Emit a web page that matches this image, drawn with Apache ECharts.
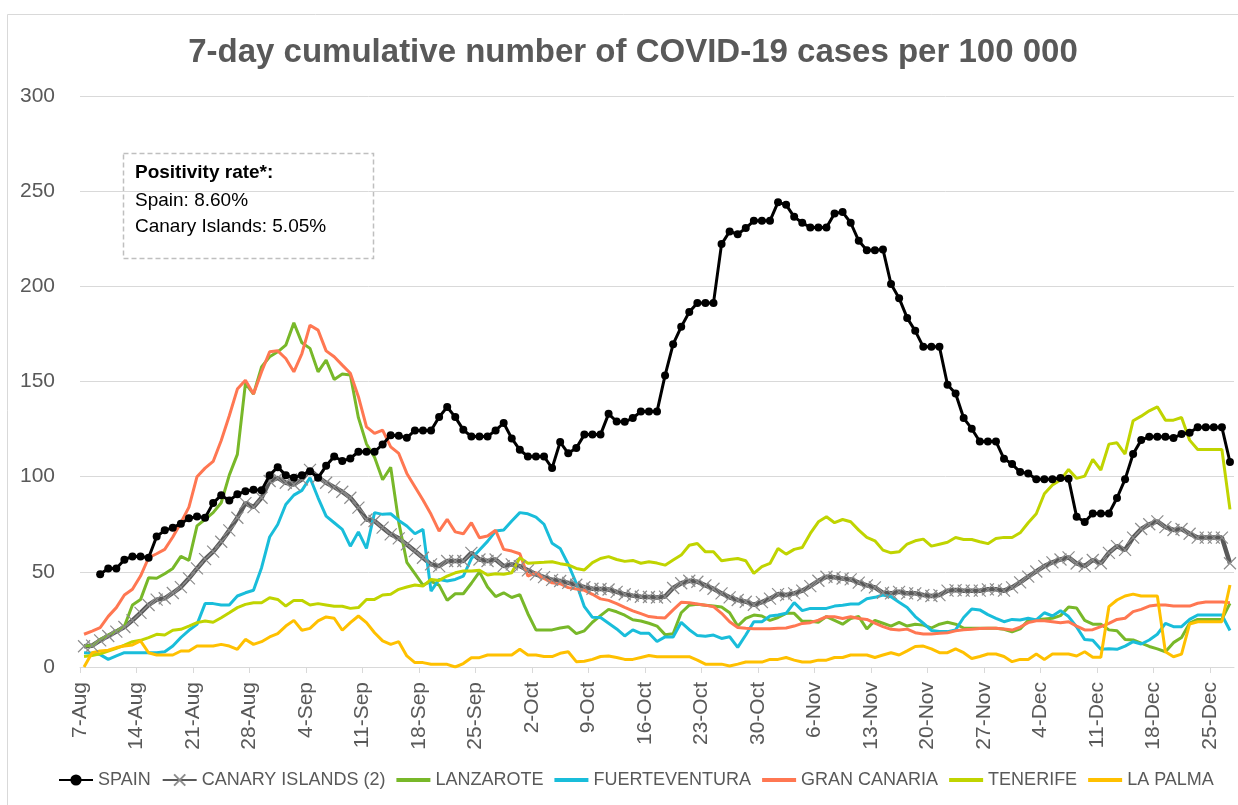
<!DOCTYPE html>
<html>
<head>
<meta charset="utf-8">
<script src="https://cdn.jsdelivr.net/npm/echarts@6/dist/echarts.min.js"></script>
<style>
  html, body { margin: 0; padding: 0; background: #fff; }
  #chart { width: 1238px; height: 805px; }
</style>
</head>
<body>
<div id="chart"></div>
<script>
// Weekly tick labels (one every 7 days, starting 7-Aug)
const tickLabels = ['7-Aug','14-Aug','21-Aug','28-Aug','4-Sep','11-Sep','18-Sep','25-Sep','2-Oct','9-Oct',
  '16-Oct','23-Oct','30-Oct','6-Nov','13-Nov','20-Nov','27-Nov','4-Dec','11-Dec','18-Dec','25-Dec'];
const yTicks = [0, 50, 100, 150, 200, 250, 300];
const seriesNames = ['SPAIN','CANARY ISLANDS (2)','LANZAROTE','FUERTEVENTURA','GRAN CANARIA','TENERIFE','LA PALMA'];

// Daily values, day 0 = 7-Aug ... day 142 = 27-Dec
const spain = [
  null,null,48.7,51.8,51.8,56.4,58.1,58.1,57.4,68.6,
  71.8,73.2,75.3,78.1,79.1,78.4,86.1,90.3,87.5,90.7,
  92.4,93.1,92.8,100.8,105.0,100.8,99.4,100.8,102.9,99.4,
  105.7,110.6,108.2,109.6,113.1,113.1,113.1,116.9,121.8,121.5,
  120.4,124.3,124.3,124.3,131.3,136.6,131.3,124.6,121.1,121.1,
  121.1,124.3,128.2,120.1,114.1,110.6,110.6,110.6,104.5,118.2,
  112.3,115.1,122.1,122.1,122.1,133.0,129.0,128.8,130.8,134.2,
  134.2,134.2,153.2,169.6,178.7,186.5,191.3,191.3,191.3,222.2,
  228.8,227.4,230.6,234.4,234.4,234.4,244.2,242.8,236.5,233.4,
  230.9,230.9,230.9,238.3,239.0,233.4,223.9,219.0,219.0,219.4,
  201.2,193.8,183.4,176.6,168.2,168.2,168.2,148.3,143.7,130.8,
  125.2,118.5,118.5,118.5,109.4,106.6,102.4,101.7,98.6,98.6,
  98.6,99.3,98.9,78.9,76.2,80.7,80.7,80.7,88.8,98.6,
  111.9,119.2,121.0,121.0,121.0,120.3,122.4,123.1,125.9,125.9,
  125.9,125.9,107.7
];
const canary = [
  10.9,11.2,14.0,16.3,18.6,21.0,24.5,28.4,32.6,35.4,
  36.1,38.9,42.0,46.6,51.8,56.7,60.6,65.8,71.8,78.4,
  86.1,84.0,88.9,97.7,99.4,96.8,95.9,98.6,103.6,99.8,
  96.8,94.5,92.1,88.9,83.7,77.5,76.7,73.2,69.7,67.6,
  64.4,60.9,57.4,53.9,53.0,55.7,55.7,55.7,60.0,56.5,
  55.7,56.5,53.0,53.9,53.0,50.8,48.7,47.2,45.8,45.2,
  44.2,43.2,41.9,41.1,41.0,40.7,39.5,38.2,37.5,36.9,
  36.8,36.5,37.0,41.5,44.0,45.3,44.8,42.9,41.1,38.7,
  36.6,35.2,34.3,32.7,34.1,35.9,38.3,37.8,38.7,40.1,
  42.5,45.3,47.4,47.1,46.5,46.0,44.3,42.9,41.8,39.0,
  38.7,39.5,38.7,38.7,37.8,37.3,37.8,40.1,40.4,40.1,
  40.1,40.1,40.8,40.8,40.1,41.8,44.5,47.5,50.2,53.0,
  55.0,56.5,57.6,54.4,53.0,56.2,54.5,60.0,63.5,61.5,
  68.0,72.5,75.0,76.5,73.5,72.0,72.5,70.0,68.0,68.0,
  68.0,68.0,54.5
];
const lanzarote = [
  11.2,11.2,14.5,16.8,18.9,21.4,32.6,35.4,46.9,46.6,
  49.0,51.8,58.1,56.0,74.1,77.6,81.1,86.3,100.8,111.7,
  149.0,143.4,157.7,163.0,165.6,169.1,180.8,170.3,167.4,155.1,
  161.2,151.1,153.9,153.4,131.0,117.2,110.2,98.4,104.9,76.0,
  55.0,49.0,43.0,45.0,43.0,35.0,38.5,38.5,44.0,50.0,
  42.0,37.0,39.0,36.5,38.0,28.0,19.5,19.5,19.5,20.5,
  21.2,17.5,19.0,23.5,27.0,30.3,29.0,27.2,24.8,24.2,
  23.0,21.5,17.0,17.5,28.5,32.5,33.0,32.5,32.0,31.5,
  28.5,21.5,25.5,27.3,26.8,24.5,26.0,28.2,28.2,24.0,
  24.0,23.5,26.5,24.5,22.5,25.5,26.5,20.0,24.5,23.0,
  21.5,23.5,21.5,22.5,22.0,20.5,22.5,23.5,22.5,20.5,
  20.3,20.3,20.3,20.3,19.8,18.5,20.0,24.5,24.8,25.2,
  25.6,27.0,31.5,31.0,24.5,22.5,22.5,19.5,19.0,14.5,
  14.2,12.5,10.8,9.5,8.0,12.8,15.5,23.0,25.0,25.0,
  25.0,25.0,33.4
];
const fuerteventura = [
  7.5,7.2,6.5,4.0,5.8,7.5,7.5,7.5,7.5,7.5,
  8.0,11.0,15.5,19.3,22.4,33.3,33.3,32.6,32.6,37.3,
  39.0,40.3,52.2,68.3,74.9,85.4,90.3,92.8,99.4,88.9,
  79.3,75.8,72.3,63.5,71.0,62.3,81.1,80.2,80.5,77.0,
  74.1,70.0,72.3,39.9,46.0,45.2,46.0,47.8,57.0,61.5,
  66.0,71.4,72.0,76.7,81.1,80.5,78.8,75.0,65.0,62.3,
  54.0,44.0,31.7,26.1,26.0,23.0,20.0,16.3,19.5,17.7,
  17.7,13.4,15.8,15.8,23.5,19.6,16.5,16.2,16.8,15.0,
  15.9,10.3,16.8,23.8,23.8,26.8,27.3,28.2,33.8,29.6,
  30.8,30.8,30.8,32.0,32.5,33.1,33.1,35.9,36.6,37.8,
  36.9,34.0,31.2,26.5,23.0,19.2,18.6,18.6,19.5,26.0,
  30.5,30.0,27.5,25.6,23.8,25.0,24.7,25.6,24.7,28.5,
  26.8,29.6,26.5,21.0,14.4,14.0,9.3,9.6,9.3,11.0,
  13.3,12.1,14.2,17.2,22.9,21.2,21.2,25.0,27.3,27.3,
  27.3,27.3,19.2
];
const granCanaria = [
  17.2,18.9,20.7,26.6,31.2,37.8,40.8,47.8,57.4,59.5,
  61.8,68.3,75.8,84.0,100.0,104.5,108.0,119.0,132.0,146.0,
  150.7,143.4,155.1,165.6,166.1,162.1,155.1,164.7,179.6,177.0,
  166.1,163.0,158.6,154.3,142.0,126.2,122.7,124.5,115.7,112.2,
  101.7,94.7,87.7,80.2,71.4,77.6,71.0,70.0,75.8,67.9,
  68.8,71.8,61.8,60.9,59.5,47.8,49.5,46.5,44.2,43.8,
  41.7,41.0,40.3,38.2,35.8,35.0,33.3,31.3,29.5,28.0,
  26.5,26.0,25.8,30.0,34.0,33.8,33.1,32.5,31.7,28.2,
  23.8,20.8,20.3,20.1,20.1,20.1,20.3,20.5,21.5,22.9,
  23.3,24.6,26.4,26.4,25.5,26.4,25.5,25.0,23.0,21.2,
  19.8,19.4,19.9,18.0,17.3,17.3,17.7,18.0,19.0,19.6,
  19.8,20.2,20.3,20.3,20.0,19.4,21.0,23.3,24.3,24.3,
  23.8,23.3,23.8,21.5,19.5,19.6,21.2,22.9,25.0,25.6,
  29.1,30.3,32.0,32.6,32.6,32.0,32.0,32.0,33.5,34.1,
  34.1,34.1,33.8
];
const tenerife = [
  5.5,6.0,6.9,8.4,9.8,11.5,13.3,14.0,15.4,17.2,
  16.8,19.3,19.8,21.5,23.3,24.2,23.5,25.9,28.5,31.2,
  32.9,33.8,33.8,36.4,35.5,32.0,35.0,35.0,32.6,33.3,
  32.6,31.9,31.9,30.8,31.2,35.5,35.5,37.8,38.2,40.8,
  42.0,43.1,42.5,46.0,45.5,47.8,49.5,50.4,50.4,50.8,
  48.3,49.0,48.7,49.5,57.4,54.5,54.8,55.0,55.3,54.3,
  53.6,51.8,51.0,54.8,57.0,58.0,56.5,55.5,56.0,54.5,
  55.3,54.6,53.5,56.2,58.8,64.0,64.9,60.5,60.5,55.8,
  56.5,57.0,55.8,49.2,52.7,54.4,62.3,59.3,61.8,62.8,
  70.2,76.3,78.9,75.8,77.5,76.3,71.9,68.1,66.3,61.4,
  60.0,60.5,64.6,66.3,67.2,63.5,64.5,65.5,68.0,67.0,
  67.0,65.8,64.8,67.5,68.1,68.0,70.5,75.8,80.5,91.0,
  95.6,98.2,103.8,99.1,100.3,109.1,103.5,117.1,117.8,111.9,
  129.4,131.8,134.6,136.7,129.7,129.7,131.1,119.2,114.3,114.3,
  114.3,114.3,82.8
];
const laPalma = [
  0,7.5,8.4,8.8,10.2,11.0,11.6,13.7,7.5,6.3,
  6.3,6.3,8.4,8.4,11.0,11.0,11.0,11.9,11.0,9.3,
  14.5,11.9,13.3,15.8,17.5,21.5,24.5,19.3,20.3,24.2,
  26.3,25.6,19.3,23.3,26.8,23.3,18.0,13.7,11.9,13.3,
  5.8,2.3,2.3,1.4,1.4,1.4,0,1.8,4.9,4.9,
  6.3,6.3,6.3,6.3,9.3,6.3,6.3,5.5,5.5,7.2,
  8.0,2.8,3.0,4.0,5.5,5.8,5.0,4.0,4.0,5.0,
  6.0,5.4,5.4,5.4,5.4,5.4,3.6,1.5,1.5,1.5,
  0.5,1.5,2.6,2.6,2.6,4.0,4.0,5.0,3.6,2.6,
  2.6,3.6,3.6,5.0,5.0,6.3,6.3,6.3,5.0,6.3,
  7.5,6.3,8.5,10.8,11.0,9.5,7.5,7.5,9.5,7.5,
  4.5,5.5,6.8,6.8,5.5,2.8,4.0,4.0,6.8,4.0,
  6.8,6.8,6.8,5.8,8.0,5.1,5.1,31.7,35.2,37.3,
  38.3,37.3,37.3,37.3,8.0,5.4,6.8,22.6,23.8,23.8,
  23.8,23.8,43.1
];

const FONT = "'Liberation Sans', Arial, sans-serif";
const TXT = '#595959';
const nDays = spain.length;
const tickDays = tickLabels.map((_, i) => i * 7);
// each daily point sits in the middle of its day slot
const toPts = arr => arr.map((v, i) => [i + 0.5, v]);
const LINE_ICON = 'path://M0,0H34V4H0Z';

function lineSeries(name, data, color, extra) {
  return Object.assign({
    name: name,
    type: 'line',
    data: toPts(data),
    symbol: 'none',
    lineStyle: { color: color, width: 3 },
    itemStyle: { color: color },
    emphasis: { disabled: true },
    z: 2
  }, extra || {});
}

const chart = echarts.init(document.getElementById('chart'), null, { renderer: 'canvas' });
chart.setOption({
  animation: false,
  backgroundColor: '#ffffff',
  title: {
    text: '7-day cumulative number of COVID-19 cases per 100 000',
    left: 628, textAlign: 'center', top: 31,
    textStyle: { fontFamily: FONT, fontSize: 33, fontWeight: 'bold', color: TXT }
  },
  grid: { left: 80, right: 4, top: 96, bottom: 138 },
  xAxis: {
    type: 'value', min: 0, max: nDays,
    axisLine: { show: true, lineStyle: { color: '#d9d9d9', width: 1 } },
    axisTick: { show: true, length: 6, customValues: tickDays, lineStyle: { color: '#d9d9d9' } },
    axisLabel: {
      customValues: tickDays, rotate: 90, margin: 15,
      fontFamily: FONT, fontSize: 21, color: TXT,
      formatter: v => tickLabels[Math.round(v / 7)] || ''
    },
    splitLine: { show: false }
  },
  yAxis: {
    type: 'value', min: yTicks[0], max: yTicks[yTicks.length - 1], interval: 50,
    axisLine: { show: false }, axisTick: { show: false },
    axisLabel: { fontFamily: FONT, fontSize: 21, color: TXT, margin: 25 },
    splitLine: { lineStyle: { color: '#d9d9d9', width: 1 } }
  },
  legend: {
    data: [
      { name: seriesNames[0] },
      { name: seriesNames[1] },
      { name: seriesNames[2], icon: LINE_ICON },
      { name: seriesNames[3], icon: LINE_ICON },
      { name: seriesNames[4], icon: LINE_ICON },
      { name: seriesNames[5], icon: LINE_ICON },
      { name: seriesNames[6], icon: LINE_ICON }
    ],
    left: 53, top: 766,
    itemWidth: 34, itemHeight: 14, itemGap: 11,
    textStyle: { fontFamily: FONT, fontSize: 18, color: TXT }
  },
  series: [
    lineSeries(seriesNames[0], spain, '#000000', {
      symbol: 'circle', symbolSize: 8, showSymbol: true, z: 3
    }),
    lineSeries(seriesNames[1], canary, '#595959', {
      symbol: 'path://M0,0L10,10M10,0L0,10', symbolSize: 12, showSymbol: true,
      lineStyle: { color: '#595959', width: 4.5 },
      itemStyle: { color: '#8c8c8c', borderColor: '#8c8c8c', borderWidth: 1.2 }
    }),
    lineSeries(seriesNames[2], lanzarote, '#78B829'),
    lineSeries(seriesNames[3], fuerteventura, '#19BDDA'),
    lineSeries(seriesNames[4], granCanaria, '#FF7752'),
    lineSeries(seriesNames[5], tenerife, '#C0D400'),
    lineSeries(seriesNames[6], laPalma, '#FFC000')
  ],
  graphic: [
    { type: 'rect', silent: true, z: 0,
      shape: { x: 7.5, y: 14.5, width: 1240, height: 800 },
      style: { fill: 'none', stroke: '#d9d9d9', lineWidth: 1 } },
    { type: 'group', z: 10, children: [
      { type: 'rect', shape: { x: 123.5, y: 153.5, width: 250, height: 105 },
        style: { fill: '#ffffff', stroke: '#bfbfbf', lineWidth: 1.5, lineDash: [5, 3] } },
      { type: 'text', style: { x: 135, y: 173, text: 'Positivity rate*:', verticalAlign: 'middle',
        font: 'bold 19px ' + FONT, fill: '#000000' } },
      { type: 'text', style: { x: 135, y: 200.5, text: 'Spain: 8.60%', verticalAlign: 'middle',
        font: '19px ' + FONT, fill: '#000000' } },
      { type: 'text', style: { x: 135, y: 227, text: 'Canary Islands: 5.05%', verticalAlign: 'middle',
        font: '19px ' + FONT, fill: '#000000' } }
    ] }
  ]
});
</script>
</body>
</html>
